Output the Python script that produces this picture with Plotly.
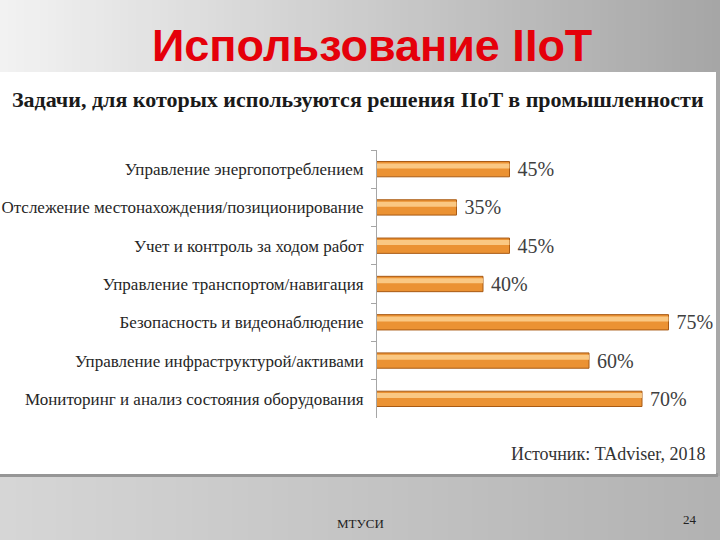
import plotly.graph_objects as go

# ---- data ----
categories = [
    "Управление энергопотреблением",
    "Отслежение местонахождения/позиционирование",
    "Учет и контроль за ходом работ",
    "Управление транспортом/навигация",
    "Безопасность и видеонаблюдение",
    "Управление инфраструктурой/активами",
    "Мониторинг и анализ состояния оборудования",
]
values = [45, 35, 45, 40, 75, 60, 70]

slide_title = "Использование IIoT"
chart_title = "Задачи, для которых используются решения IIoT в промышленности"
source_text = "Источник: TAdviser, 2018"
footer_text = "МТУСИ"
page_number = "24"

W, H = 720, 540
SERIF = "Liberation Serif, DejaVu Serif, serif"


def lerp_color(c0, c1, t):
    return "rgb({},{},{})".format(*[round(a + (b - a) * t) for a, b in zip(c0, c1)])


shapes = []
# slide background gradient (top band and bottom band)
N = 90
for i in range(N):
    t = i / (N - 1)
    x0 = i * W / N
    x1 = (i + 1) * W / N + 0.5
    shapes.append(dict(type="rect", xref="paper", yref="paper",
                       x0=x0 / W, x1=min(x1 / W, 1), y0=(H - 74) / H, y1=1,
                       fillcolor=lerp_color((242, 242, 242), (166, 166, 166), t),
                       line=dict(width=0), layer="below"))
    shapes.append(dict(type="rect", xref="paper", yref="paper",
                       x0=x0 / W, x1=min(x1 / W, 1), y0=0, y1=(H - 472) / H,
                       fillcolor=lerp_color((214, 214, 214), (178, 178, 178), t),
                       line=dict(width=0), layer="below"))
# right strip next to panel
shapes.append(dict(type="rect", xref="paper", yref="paper",
                   x0=714 / W, x1=1, y0=(H - 476) / H, y1=(H - 70) / H,
                   fillcolor="rgb(168,168,168)", line=dict(width=0), layer="below"))
# panel shadow
shapes.append(dict(type="rect", xref="paper", yref="paper",
                   x0=0, x1=718 / W, y0=(H - 477) / H, y1=(H - 473) / H,
                   fillcolor="rgb(150,150,150)", line=dict(width=0), layer="below"))
# white panel
shapes.append(dict(type="rect", xref="paper", yref="paper",
                   x0=0, x1=716 / W, y0=(H - 474) / H, y1=(H - 72) / H,
                   fillcolor="white", line=dict(width=0), layer="below"))

fig = go.Figure()

fig.add_trace(go.Bar(
    y=categories, x=values, orientation="h",
    width=0.4,
    marker=dict(color="#eb9233", line=dict(color="#a85a14", width=1)),
    text=values, texttemplate=" %{x}%", textposition="outside",
    constraintext="none",
    textfont=dict(family=SERIF, size=20, color="#404040"),
    cliponaxis=False, hoverinfo="skip", showlegend=False,
))
fig.add_trace(go.Bar(
    y=categories, x=values, orientation="h",
    width=0.13, offset=-0.15,
    marker=dict(color="rgba(252,206,140,0.9)", line=dict(width=0)),
    hoverinfo="skip", showlegend=False,
))

fig.update_layout(
    width=W, height=H,
    margin=dict(l=0, r=0, t=0, b=0),
    paper_bgcolor="white",
    plot_bgcolor="rgba(0,0,0,0)",
    barmode="overlay",
    shapes=shapes,
    xaxis=dict(domain=[377 / W, 695 / W], range=[20, 80],
               showgrid=False, zeroline=False, showticklabels=False,
               showline=False, ticks=""),
    yaxis=dict(domain=[1 - 418 / H, 1 - 150 / H], autorange="reversed",
               type="category",
               showgrid=False, zeroline=False,
               showline=True, linecolor="#a6a6a6", linewidth=1,
               ticks="outside", tickson="boundaries", ticklen=5,
               tickcolor="#a6a6a6", ticklabelstandoff=9,
               tickfont=dict(family=SERIF, size=17, color="#262626")),
    annotations=[
        dict(text="<b>" + slide_title + "</b>", xref="paper", yref="paper",
             x=372 / W, y=1 - 46 / H, xanchor="center", yanchor="middle",
             showarrow=False,
             font=dict(family="Liberation Sans, Arial, sans-serif", size=45, color="#e5000a")),
        dict(text="<b>" + chart_title + "</b>", xref="paper", yref="paper",
             x=10 / W, y=1 - 100 / H, xanchor="left", yanchor="middle",
             showarrow=False,
             font=dict(family=SERIF, size=22, color="#1a1a1a")),
        dict(text=source_text, xref="paper", yref="paper",
             x=708 / W, y=1 - 454 / H, xanchor="right", yanchor="middle",
             showarrow=False,
             font=dict(family=SERIF, size=18, color="#333333")),
        dict(text=footer_text, xref="paper", yref="paper",
             x=360 / W, y=1 - 523 / H, xanchor="center", yanchor="middle",
             showarrow=False,
             font=dict(family=SERIF, size=13, color="#222222")),
        dict(text=page_number, xref="paper", yref="paper",
             x=689.5 / W, y=1 - 519 / H, xanchor="center", yanchor="middle",
             showarrow=False,
             font=dict(family=SERIF, size=13, color="#222222")),
    ],
)

fig.write_html("out.html")
